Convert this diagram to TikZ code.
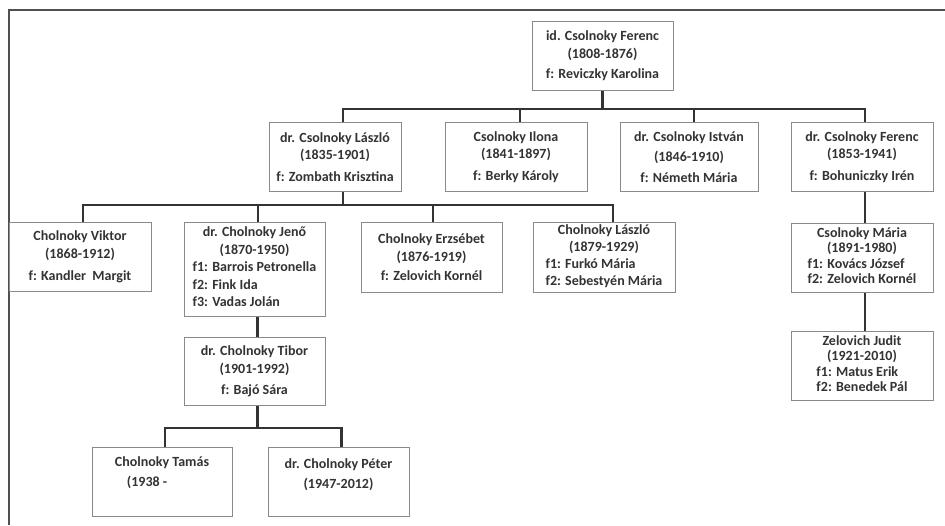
\documentclass[tikz,border=0pt]{standalone}
\usepackage{fontspec}
\setmainfont{Carlito}
\usetikzlibrary{positioning}
\definecolor{boxgray}{HTML}{8A8A8A}
\definecolor{linegray}{HTML}{333333}
\definecolor{textgray}{HTML}{333333}
\definecolor{framegray}{HTML}{505050}

\begin{document}
\begin{tikzpicture}[x=1pt, y=1pt, node distance=32pt]
      \tikzstyle{person} = [rectangle, draw=boxgray, line width=1pt, fill=white, text=textgray, align=center, inner sep=2pt, minimum height=69pt, font=\fontsize{14}{17.5}\selectfont\bfseries]
      \tikzstyle{tight} = [font=\fontsize{14}{15.5}\selectfont\bfseries]
      \tikzstyle{conn} = [draw=linegray, line width=2.1pt]
      \tikzstyle{pageframe} = [draw=framegray, line width=1.4pt]

      \useasboundingbox (0,0) rectangle (945,-525);
      \draw [pageframe] (9,-525) -- (9,-10) -- (945,-10);

      \node (root) [person, minimum width=141pt, anchor=north] at (602.5,-21) {id. Csolnoky Ferenc\\(1808-1876)\\[3pt]f: Reviczky Karolina};

      \node (laszlo) [person, minimum width=132pt, anchor=north] at (335,-122) {dr. Csolnoky László\\(1835-1901)\\[4pt]f: Zombath Krisztina};
      \node (ilona) [person, minimum width=142pt, right=43pt of laszlo] {Csolnoky Ilona\\(1841-1897)\\[4pt]f: Berky Károly};
      \node (istvan) [person, minimum width=138pt, right=32pt of ilona] {dr. Csolnoky István\\[3pt](1846-1910)\\[3pt]f: Németh Mária};
      \node (ferenc) [person, minimum width=142pt, right=32pt of istvan] {dr. Csolnoky Ferenc\\(1853-1941)\\[4pt]f: Bohuniczky Irén};

      \draw [conn] (root.south) -- ++(0,-18) coordinate (busa);
      \draw [conn] ([xshift=8pt]laszlo.north) |- (busa) -| ([xshift=3pt]ferenc.north);
      \draw [conn] ([xshift=4pt]ilona.north) |- (busa);
      \draw [conn] ([xshift=5pt]istvan.north) |- (busa);

      \node (viktor) [person, minimum width=142pt, anchor=north] at (80,-222) {Cholnoky Viktor\\(1868-1912)\\[5pt]f: Kandler~ Margit};
      \node (jeno) [person, minimum width=141pt, minimum height=94pt, anchor=north] at (254.5,-222) {dr. Cholnoky Jenő\\(1870-1950)\\\begin{tabular}[t]{@{}l@{}}f1: Barrois Petronella\\f2: Fink Ida\\f3: Vadas Jolán\end{tabular}};
      \node (erzsebet) [person, minimum width=141pt, minimum height=70pt, anchor=north] at (431.5,-222) {Cholnoky Erzsébet\\(1876-1919)\\[2pt]f: Zelovich Kornél};
      \node (claszlo) [person, minimum width=142pt, minimum height=70pt, anchor=north, font=\fontsize{14}{17}\selectfont\bfseries] at (604,-222) {Cholnoky László\\(1879-1929)\\\begin{tabular}[t]{@{}l@{}}f1: Furkó Mária\\f2: Sebestyén Mária\end{tabular}};

      \draw [conn] ([xshift=8pt]laszlo.south) -- ++(0,-13) coordinate (busb);
      \draw [conn] ([xshift=3pt]viktor.north) |- (busb) -| ([xshift=9pt]claszlo.north);
      \draw [conn] ([xshift=3.5pt]jeno.north) |- (busb);
      \draw [conn] ([xshift=1.5pt]erzsebet.north) |- (busb);

      \node (maria) [person, tight, minimum width=142pt, below=31pt of ferenc] {Csolnoky Mária\\(1891-1980)\\\begin{tabular}[t]{@{}l@{}}f1: Kovács József\\f2: Zelovich Kornél\end{tabular}};
      \node (judit) [person, tight, minimum width=142pt, below=38pt of maria] {Zelovich Judit\\(1921-2010)\\\begin{tabular}[t]{@{}l@{}}f1: Matus Erik\\f2: Benedek Pál\end{tabular}};

      \draw [conn] ([xshift=3pt]ferenc.south) -- ([xshift=3pt]maria.north);
      \draw [conn] ([xshift=3pt]maria.south) -- ([xshift=3pt]judit.north);

      \node (tibor) [person, minimum width=141pt, minimum height=68pt, below=20pt of jeno] {dr. Cholnoky Tibor\\(1901-1992)\\[3.5pt]f: Bajó Sára};
      \node (tamas) [person, minimum width=140pt, below=41pt of tibor, xshift=-92.5pt] {\begin{tabular}{@{}l@{}}Cholnoky Tamás\\[2.5pt]\hspace*{12pt}(1938 -\\\mbox{}\end{tabular}};
      \node (peter) [person, minimum width=141pt, right=35pt of tamas] {dr. Cholnoky Péter\\[2.5pt](1947-2012)\\\mbox{}};

      \draw [conn] ([xshift=3pt]jeno.south) -- ([xshift=3pt]tibor.north);
      \draw [conn] ([xshift=3pt]tibor.south) -- ++(0,-22) coordinate (busc);
      \draw [conn] ([xshift=3pt]tamas.north) |- (busc) -| ([xshift=3pt]peter.north);

    \end{tikzpicture}
\end{document}
